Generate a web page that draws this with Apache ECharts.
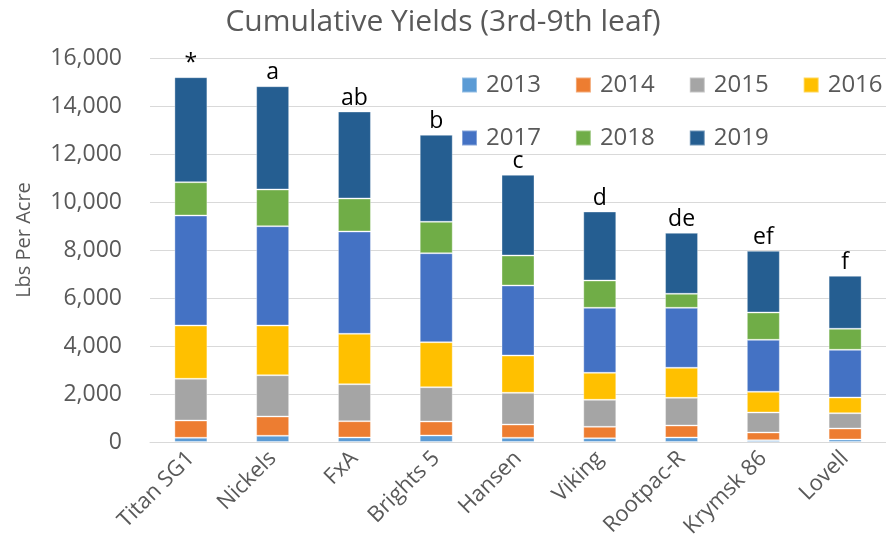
<!DOCTYPE html>
<html>
<head>
<meta charset="utf-8">
<script src="https://cdn.jsdelivr.net/npm/echarts@6.0.0/dist/echarts.min.js"></script>
<style>
  html, body { margin: 0; padding: 0; background: #fff; }
  #chart { width: 886px; height: 557px; }
</style>
</head>
<body>
<div id="chart"></div>
<script>
// categories (rootstocks) and significance letters
const rootstocks = ['Titan SG1', 'Nickels', 'FxA', 'Brights 5', 'Hansen', 'Viking', 'Rootpac-R', 'Krymsk 86', 'Lovell'];
const letters = ['*', 'a', 'ab', 'b', 'c', 'd', 'de', 'ef', 'f'];

// yearly yields, lbs per acre
const y2013 = [175, 258, 188, 271, 175, 158, 188, 75, 104];
const y2014 = [721, 805, 679, 583, 554, 475, 500, 321, 459];
const y2015 = [1737, 1720, 1541, 1429, 1321, 1125, 1154, 833, 637];
const y2016 = [2221, 2071, 2100, 1875, 1554, 1125, 1250, 863, 654];
const y2017 = [4583, 4138, 4263, 3709, 2917, 2709, 2500, 2166, 1988];
const y2018 = [1388, 1529, 1375, 1308, 1250, 1137, 583, 1138, 875];
const y2019 = [4375, 4304, 3625, 3625, 3362, 2875, 2542, 2571, 2208];

const years = ['2013', '2014', '2015', '2016', '2017', '2018', '2019'];
const yearData = [y2013, y2014, y2015, y2016, y2017, y2018, y2019];
const colors = ['#5B9BD5', '#ED7D31', '#A5A5A5', '#FFC000', '#4472C4', '#70AD47', '#255E91'];

const font = '"Open Sans", sans-serif';
const textColor = '#595959';

const chart = echarts.init(document.getElementById('chart'));

const series = years.map((year, i) => {
  const s = {
    name: year,
    type: 'bar',
    stack: 'total',
    barWidth: 33,
    data: yearData[i],
    itemStyle: {
      color: colors[i],
      borderColor: 'rgba(255,255,255,0.35)',
      borderWidth: 1,
    },
  };
  if (i === years.length - 1) {
    s.label = {
      show: true,
      position: 'top',
      distance: 2,
      color: '#000',
      fontFamily: font,
      fontSize: 23,
      formatter: (p) => letters[p.dataIndex],
    };
  }
  return s;
});

const legendCommon = {
  left: 461,
  width: 500,
  padding: 0,
  itemWidth: 15,
  itemHeight: 15,
  itemGap: 34,
  icon: 'rect',
  textStyle: {
    color: textColor,
    fontFamily: font,
    fontSize: 24,
    padding: [0, 0, 0, 4],
  },
};

chart.setOption({
  animation: false,
  color: colors,
  title: {
    text: 'Cumulative Yields (3rd-9th leaf)',
    left: 'center',
    top: 2,
    textStyle: {
      color: textColor,
      fontFamily: font,
      fontSize: 30,
      fontWeight: 'normal',
    },
  },
  legend: [
    { ...legendCommon, top: 73, data: years.slice(0, 4) },
    { ...legendCommon, top: 126, data: years.slice(4) },
  ],
  grid: {
    left: 150,
    top: 58,
    width: 748,
    height: 384,
  },
  xAxis: {
    type: 'category',
    data: rootstocks,
    axisTick: { show: false },
    axisLine: { lineStyle: { color: '#d9d9d9' } },
    axisLabel: {
      rotate: 45,
      margin: 13,
      color: textColor,
      fontFamily: font,
      fontSize: 22,
    },
  },
  yAxis: {
    type: 'value',
    min: 0,
    max: 16000,
    interval: 2000,
    name: 'Lbs Per Acre',
    nameLocation: 'middle',
    nameGap: 116,
    nameTextStyle: {
      color: textColor,
      fontFamily: font,
      fontSize: 20,
      padding: [0, 0, 0, 20],
    },
    axisLine: { show: false },
    axisTick: { show: false },
    splitLine: { lineStyle: { color: '#d9d9d9' } },
    axisLabel: {
      margin: 28,
      color: textColor,
      fontFamily: font,
      fontSize: 23,
      formatter: (v) => v.toLocaleString('en-US'),
    },
  },
  series,
});
</script>
</body>
</html>
